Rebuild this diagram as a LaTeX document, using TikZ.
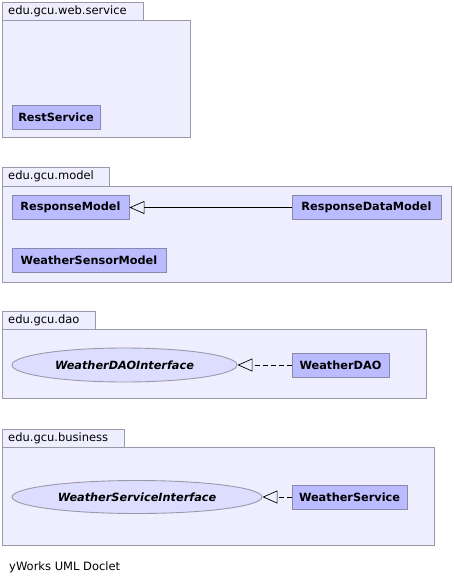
\documentclass[tikz,border=0pt]{standalone}
\usepackage{fontspec}
\setmainfont{DejaVu Sans}
\usetikzlibrary{shapes.geometric,arrows.meta}
\definecolor{pkgfill}{RGB}{238,238,255}
\definecolor{pkgline}{RGB}{153,153,170}
\definecolor{clsfill}{RGB}{187,187,255}
\definecolor{clsline}{RGB}{136,136,170}
\definecolor{ifill}{RGB}{221,221,255}
\tikzset{
  x=1pt,y=-1pt,
  pkg/.style={draw=pkgline,fill=pkgfill,line width=0.9pt},
  tablabel/.style={anchor=west,inner sep=0pt,font=\fontsize{11.5}{13}\selectfont},
  cls/.style={draw=clsline,fill=clsfill,line width=0.9pt,rectangle,minimum height=24pt,inner sep=0pt,font=\bfseries\fontsize{11.3}{13}\selectfont},
  iface/.style={draw=pkgline,fill=ifill,line width=0.9pt,ellipse,inner sep=0pt,font=\bfseries\itshape\fontsize{11.3}{13}\selectfont},
  realize/.style={dash pattern=on 5pt off 3pt,-{Triangle[open,length=15pt,width=13pt]},line width=0.7pt},
  inherit/.style={-{Triangle[open,length=15pt,width=13pt]},line width=0.7pt}
}
\begin{document}
\begin{tikzpicture}
\useasboundingbox (0,0) rectangle (454,583);
% package 1
\draw[pkg] (2,2) rectangle (143,20);
\draw[pkg] (2,20) rectangle (190,137);
\node[tablabel] (t1) at (8,11) {edu.gcu.web.service};
\node[cls,minimum width=88pt] (rest) at (56,117.5) {RestService};
% package 2
\draw[pkg] (2,167) rectangle (109,186);
\draw[pkg] (2,186) rectangle (451,282);
\node[tablabel] (t2) at (8,176.5) {edu.gcu.model};
\node[cls,minimum width=117pt] (rm) at (70.5,207.5) {ResponseModel};
\node[cls,minimum width=149pt] (rdm) at (366.5,207.5) {ResponseDataModel};
\node[cls,minimum width=154pt] (wsm) at (89,260.5) {WeatherSensorModel};
\draw[inherit] (rdm.west) -- (rm.east);
% package 3
\draw[pkg] (2,311) rectangle (95,329);
\draw[pkg] (2,329) rectangle (426,398);
\node[tablabel] (t3) at (8,320) {edu.gcu.dao};
\node[iface,minimum width=225pt,minimum height=34pt] (wdi) at (124.5,365) {WeatherDAOInterface};
\node[cls,minimum width=97pt] (wdao) at (340.5,365) {WeatherDAO};
\draw[realize] (wdao.west) -- (wdi.east);
% package 4
\draw[pkg] (2,429) rectangle (124,447);
\draw[pkg] (2,447) rectangle (434,545);
\node[tablabel] (t4) at (8,438) {edu.gcu.business};
\node[iface,minimum width=250pt,minimum height=33pt] (wsi) at (137,497) {WeatherServiceInterface};
\node[cls,minimum width=115pt] (ws) at (349.5,497) {WeatherService};
\draw[realize] (ws.west) -- (wsi.east);
\node[tablabel] (foot) at (9,567) {yWorks UML Doclet};
\end{tikzpicture}
\end{document}
